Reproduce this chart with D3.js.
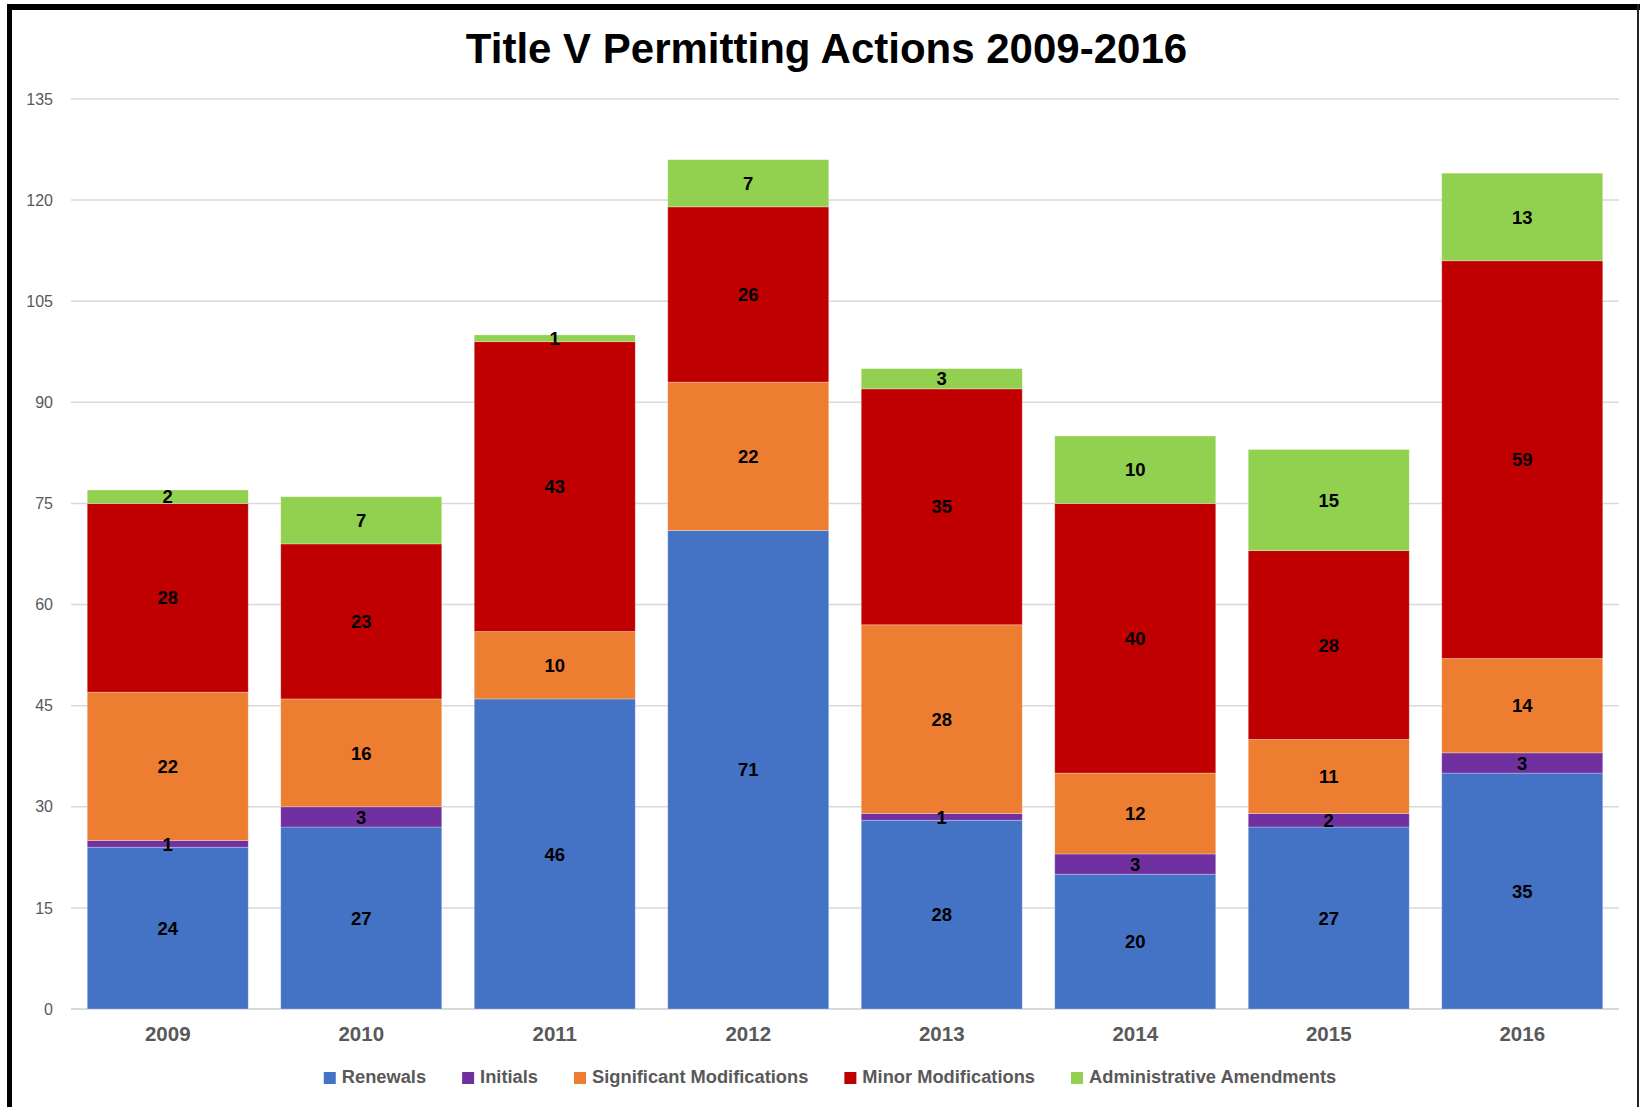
<!DOCTYPE html>
<html>
<head>
<meta charset="utf-8">
<script src="https://cdn.jsdelivr.net/npm/d3@7"></script>
<style>
  html, body { margin: 0; padding: 0; background: #fff; }
  svg { display: block; }
  text { font-family: "Liberation Sans", Arial, sans-serif; }
</style>
</head>
<body>
<svg id="chart" width="1640" height="1107"></svg>
<script>
const years = ["2009", "2010", "2011", "2012", "2013", "2014", "2015", "2016"];
const seriesNames = ["Renewals", "Initials", "Significant Modifications", "Minor Modifications", "Administrative Amendments"];
const seriesColors = ["#4472C4", "#7030A0", "#ED7D31", "#C00000", "#92D050"];
const renewals = [24, 27, 46, 71, 28, 20, 27, 35];
const initials = [1, 3, 0, 0, 1, 3, 2, 3];
const significantMods = [22, 16, 10, 22, 28, 12, 11, 14];
const minorMods = [28, 23, 43, 26, 35, 40, 28, 59];
const adminAmendments = [2, 7, 1, 7, 3, 10, 15, 13];
const yTicks = [0, 15, 30, 45, 60, 75, 90, 105, 120, 135];
const chartTitle = "Title V Permitting Actions 2009-2016";

(function () {
const seriesValues = [renewals, initials, significantMods, minorMods, adminAmendments];
const table = years.map((yr, i) => {
  const row = { year: yr };
  seriesNames.forEach((s, k) => row[s] = seriesValues[k][i]);
  return row;
});

const svg = d3.select("#chart");
const plotLeft = 71, plotRight = 1619, plotTop = 99, plotBottom = 1009;

const x = d3.scaleBand().domain(years).range([plotLeft, plotRight]).paddingInner(0.168).paddingOuter(0.084);
const y = d3.scaleLinear().domain([0, 135]).range([plotBottom, plotTop]);

// gridlines
svg.append("g").selectAll("line").data(yTicks).join("line")
  .attr("x1", plotLeft).attr("x2", plotRight)
  .attr("y1", d => y(d)).attr("y2", d => y(d))
  .attr("stroke", "#d9d9d9").attr("stroke-width", d => d === 0 ? 2 : 1.5);

// y axis labels
const yAxis = d3.axisLeft(y).tickValues(yTicks).tickSize(0).tickPadding(0);
const yg = svg.append("g").attr("transform", "translate(53,0)").call(yAxis);
yg.select(".domain").remove();
yg.selectAll("text").attr("font-size", 16).attr("fill", "#595959")
  .attr("font-family", "'Liberation Sans', Arial, sans-serif");

// stacked bars
const stack = d3.stack().keys(seriesNames);
const layers = stack(table);
const lg = svg.append("g").selectAll("g").data(layers).join("g")
  .attr("fill", (d, i) => seriesColors[i]);
lg.selectAll("rect").data(d => d).join("rect")
  .attr("x", d => x(d.data.year))
  .attr("width", x.bandwidth())
  .attr("y", d => y(d[1]))
  .attr("height", d => y(d[0]) - y(d[1]))
  .attr("stroke", "#ffffff").attr("stroke-opacity", 0.35).attr("stroke-width", 0.8);

// data labels
const labelG = svg.append("g");
layers.forEach(layer => {
  layer.forEach(d => {
    const v = d[1] - d[0];
    if (v <= 0) return;
    labelG.append("text")
      .attr("x", x(d.data.year) + x.bandwidth() / 2)
      .attr("y", (y(d[0]) + y(d[1])) / 2)
      .attr("dy", "0.36em")
      .attr("text-anchor", "middle")
      .attr("font-size", 18.5).attr("font-weight", "bold").attr("fill", "#000")
      .text(v);
  });
});

// x axis labels
const xAxis = d3.axisBottom(x).tickSize(0).tickPadding(0);
const xg = svg.append("g").attr("transform", "translate(0,1041)").call(xAxis);
xg.select(".domain").remove();
xg.selectAll("text").attr("dy", 0).attr("font-size", 20.5).attr("font-weight", "bold")
  .attr("fill", "#595959").attr("font-family", "'Liberation Sans', Arial, sans-serif");

// title
svg.append("text").attr("x", 826.5).attr("y", 63).attr("text-anchor", "middle")
  .attr("font-size", 42).attr("font-weight", "bold").attr("fill", "#000")
  .text(chartTitle);

// legend
const legend = svg.append("g");
let cx = 0;
const gap = 36;
seriesNames.forEach((s, i) => {
  const g = legend.append("g");
  g.append("rect").attr("x", 0).attr("y", -11).attr("width", 12).attr("height", 12).attr("fill", seriesColors[i]);
  const t = g.append("text").attr("x", 18).attr("y", 0).attr("font-size", 18.3).attr("font-weight", "bold")
    .attr("fill", "#595959").text(s);
  const w = 18 + t.node().getComputedTextLength();
  g.attr("transform", `translate(${cx},1083)`);
  cx += w + gap;
});
const totalW = cx - gap;
legend.attr("transform", `translate(${830 - totalW / 2},0)`);

// border
svg.append("line").attr("x1", 7).attr("x2", 1640).attr("y1", 7).attr("y2", 7).attr("stroke", "#000").attr("stroke-width", 6);
svg.append("line").attr("x1", 9.5).attr("x2", 9.5).attr("y1", 4).attr("y2", 1107).attr("stroke", "#000").attr("stroke-width", 5);
svg.append("line").attr("x1", 1638).attr("x2", 1638).attr("y1", 4).attr("y2", 1107).attr("stroke", "#222").attr("stroke-width", 2);
})();
</script>
</body>
</html>
